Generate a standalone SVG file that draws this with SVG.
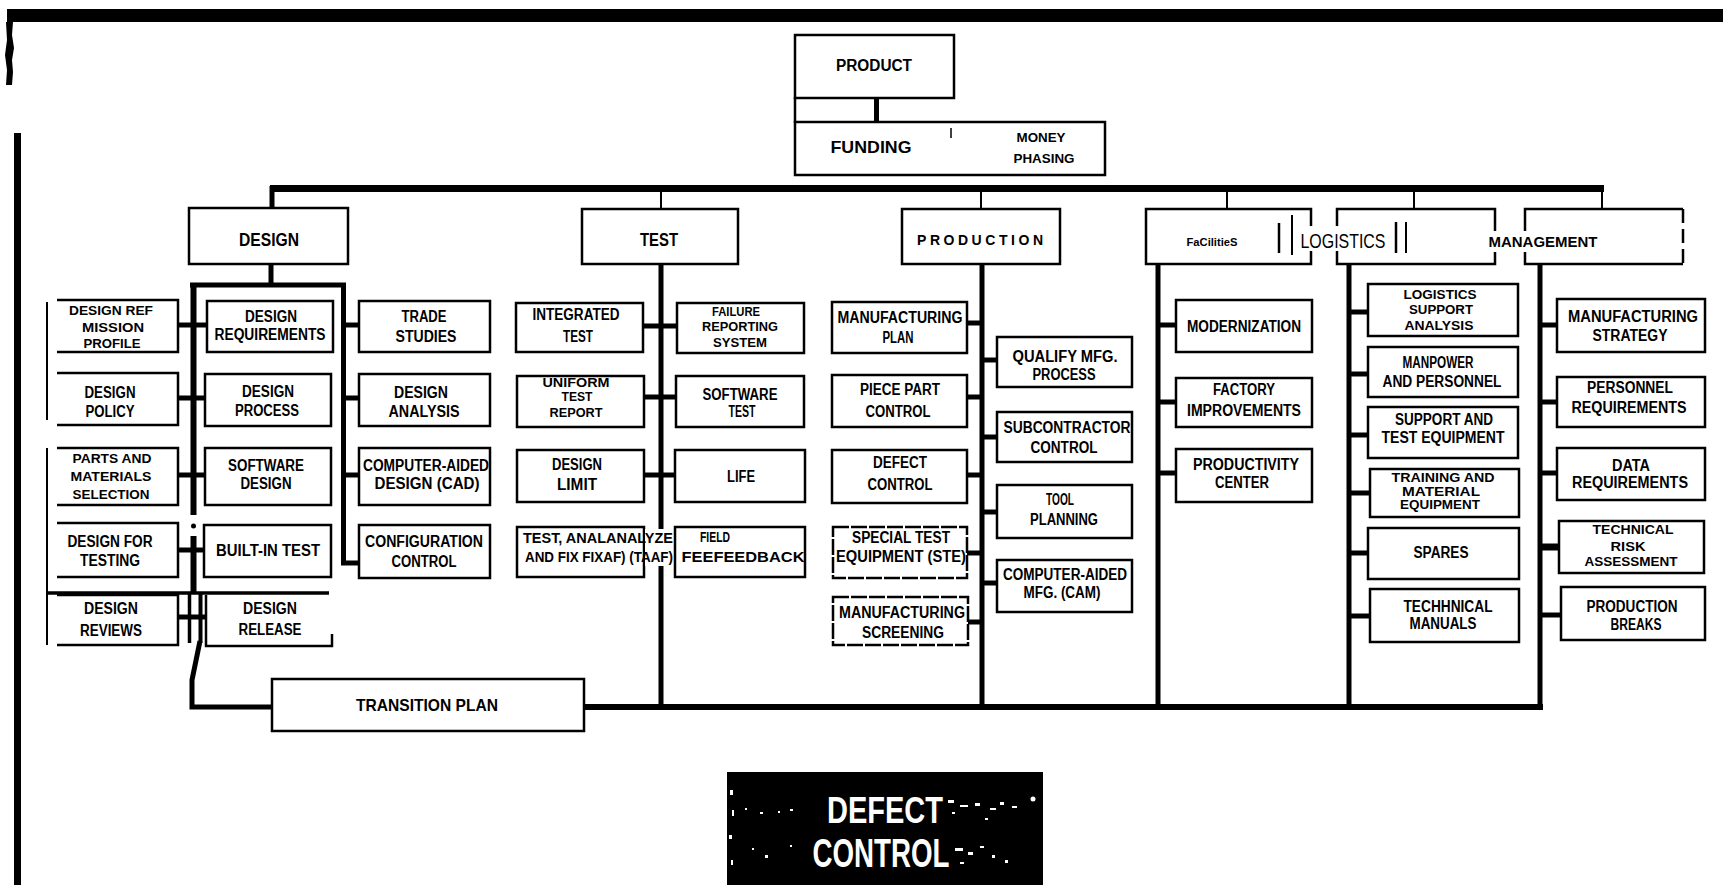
<svg xmlns="http://www.w3.org/2000/svg" width="1723" height="885" viewBox="0 0 1723 885">
<style>
.b{fill:#fff;stroke:#000;stroke-width:2.5}
.c{fill:none;stroke:#000;stroke-width:5}
.ct{fill:none;stroke:#000;stroke-width:2}
.t{font-family:"Liberation Sans Narrow","Liberation Sans",Arial,sans-serif;font-weight:bold;font-size:16px;text-anchor:middle;fill:#000}
.s{font-size:13.5px}
.xs{font-size:12.5px}
.a{font-family:"Liberation Sans",Arial,sans-serif;font-weight:bold;text-anchor:middle;fill:#000}
</style>
<rect width="1723" height="885" fill="#fff"/>
<!-- page marks -->
<rect x="7" y="9" width="1716" height="13" fill="#000"/>
<polygon points="6,22 13,22 12,35 14,48 12,60 13,72 12,85 6,85 7,70 5,55 7,40" fill="#000"/>
<rect x="14" y="133" width="7" height="752" fill="#000"/>

<g id="connectors">
  <line x1="270" y1="188.5" x2="1604" y2="188.5" stroke="#000" stroke-width="7"/>
  <line x1="876.5" y1="98" x2="876.5" y2="122" class="c"/>
  <line x1="272" y1="186" x2="272" y2="209" class="c"/>
  <line x1="661" y1="192" x2="661" y2="209" class="ct"/>
  <line x1="981" y1="192" x2="981" y2="209" class="ct"/>
  <line x1="1227" y1="192" x2="1227" y2="209" class="ct"/>
  <line x1="1414" y1="192" x2="1414" y2="209" class="ct"/>
  <line x1="1602" y1="186" x2="1602" y2="209" class="ct"/>
  <!-- design frame -->
  <line x1="271" y1="264" x2="271" y2="285" class="c"/>
  <line x1="190" y1="285" x2="346" y2="285" class="c"/>
  <line x1="193.5" y1="283" x2="193.5" y2="515" stroke="#000" stroke-width="6"/>
  <circle cx="193.5" cy="526" r="2.5" fill="#000"/>
  <line x1="193.5" y1="536" x2="193.5" y2="592" stroke="#000" stroke-width="6"/>
  <line x1="189.5" y1="592" x2="189.5" y2="643" stroke="#000" stroke-width="3.5"/>
  <line x1="200.5" y1="592" x2="200.5" y2="643" stroke="#000" stroke-width="4"/>
  <path d="M200,641 L192,680 L192,707 L272,707" class="c"/>
  <line x1="343.5" y1="283" x2="343.5" y2="565" class="c"/>
  <line x1="341" y1="563" x2="360" y2="563" class="c"/>
  <line x1="178" y1="325" x2="207" y2="325" class="c"/>
  <line x1="178" y1="398" x2="205" y2="398" class="c"/>
  <line x1="178" y1="475" x2="205" y2="475" class="c"/>
  <line x1="178" y1="550" x2="205" y2="550" class="c"/>
  <line x1="178" y1="617" x2="206" y2="617" class="c"/>
  <line x1="341" y1="325" x2="359" y2="325" class="c"/>
  <line x1="341" y1="398" x2="359" y2="398" class="c"/>
  <line x1="341" y1="475" x2="359" y2="475" class="c"/>
  <!-- test -->
  <line x1="661" y1="264" x2="661" y2="707" class="c"/>
  <line x1="643" y1="326" x2="677" y2="326" class="c"/>
  <line x1="644" y1="397" x2="676" y2="397" class="c"/>
  <line x1="644" y1="475" x2="675" y2="475" class="c"/>
  <!-- production -->
  <line x1="982" y1="264" x2="982" y2="707" class="c"/>
  <line x1="967" y1="323" x2="982" y2="323" class="c"/>
  <line x1="967" y1="397" x2="982" y2="397" class="c"/>
  <line x1="967" y1="475" x2="982" y2="475" class="c"/>
  <line x1="967" y1="553" x2="982" y2="553" class="c"/>
  <line x1="968" y1="622" x2="982" y2="622" class="c"/>
  <line x1="982" y1="360" x2="997" y2="360" class="c"/>
  <line x1="982" y1="437" x2="997" y2="437" class="c"/>
  <line x1="982" y1="512" x2="997" y2="512" class="c"/>
  <line x1="982" y1="583" x2="997" y2="583" class="c"/>
  <!-- facilities -->
  <line x1="1158" y1="264" x2="1158" y2="707" class="c"/>
  <line x1="1158" y1="325" x2="1176" y2="325" class="c"/>
  <line x1="1158" y1="402" x2="1176" y2="402" class="c"/>
  <line x1="1158" y1="473" x2="1176" y2="473" class="c"/>
  <!-- logistics -->
  <line x1="1349" y1="264" x2="1349" y2="707" class="c"/>
  <line x1="1349" y1="312" x2="1368" y2="312" class="c"/>
  <line x1="1349" y1="374" x2="1368" y2="374" class="c"/>
  <line x1="1349" y1="435" x2="1368" y2="435" class="c"/>
  <line x1="1349" y1="493" x2="1370" y2="493" class="c"/>
  <line x1="1349" y1="553" x2="1368" y2="553" class="c"/>
  <line x1="1349" y1="616" x2="1370" y2="616" class="c"/>
  <!-- management -->
  <line x1="1540" y1="264" x2="1540" y2="710" class="c"/>
  <line x1="1540" y1="325" x2="1557" y2="325" class="c"/>
  <line x1="1540" y1="402" x2="1557" y2="402" class="c"/>
  <line x1="1540" y1="473" x2="1557" y2="473" class="c"/>
  <line x1="1540" y1="547" x2="1559" y2="547" stroke="#000" stroke-width="7"/>
  <line x1="1540" y1="615" x2="1561" y2="615" class="c"/>
  <!-- bottom bus -->
  <line x1="272" y1="707" x2="1543" y2="707" stroke="#000" stroke-width="6"/>
</g>

<g id="product">
  <rect class="b" x="795" y="35" width="159" height="63"/>
  <line x1="795" y1="97" x2="795" y2="123" stroke="#000" stroke-width="2.5"/>
  <text class="t" x="874" y="71" textLength="76" lengthAdjust="spacingAndGlyphs">PRODUCT</text>
</g>
<g id="funding">
  <rect class="b" x="795" y="122" width="310" height="53"/>
  <line x1="951" y1="128" x2="951" y2="138" stroke="#000" stroke-width="1.5"/>
  <text class="t" x="871" y="153" style="font-size:17px" textLength="81" lengthAdjust="spacingAndGlyphs">FUNDING</text>
  <text class="t" x="1041" y="142" style="font-size:12px" textLength="49" lengthAdjust="spacingAndGlyphs">MONEY</text>
  <text class="t" x="1044" y="163" style="font-size:12px" textLength="61" lengthAdjust="spacingAndGlyphs">PHASING</text>
</g>

<!-- column headers -->
<g id="design">
  <rect class="b" x="189" y="208" width="159" height="56"/>
  <text class="t" x="269" y="246" style="font-size:18px" textLength="60" lengthAdjust="spacingAndGlyphs">DESIGN</text>
</g>
<g id="test">
  <rect class="b" x="582" y="209" width="156" height="55"/>
  <text class="t" x="659" y="246" style="font-size:18px" textLength="38" lengthAdjust="spacingAndGlyphs">TEST</text>
</g>
<g id="production">
  <rect class="b" x="902" y="209" width="158" height="55"/>
  <text class="a" x="980" y="245" font-size="14" textLength="126" lengthAdjust="spacing">PRODUCTION</text>
</g>
<g id="facilities">
  <rect class="b" x="1146" y="209" width="165" height="55"/>
  <text class="a" x="1212" y="246" font-size="11" textLength="51" lengthAdjust="spacingAndGlyphs">FaCilitieS</text>
  <line x1="1279" y1="223" x2="1279" y2="253" stroke="#000" stroke-width="2.5"/>
  <line x1="1292" y1="215" x2="1292" y2="255" stroke="#000" stroke-width="2"/>
</g>
<g id="logistics">
  <rect class="b" x="1337" y="209" width="158" height="55"/>
  <rect x="1299" y="226" width="90" height="25" fill="#fff"/>
  <text class="t" x="1343" y="248" style="font-size:21px;font-weight:normal" textLength="85" lengthAdjust="spacingAndGlyphs">LOGISTICS</text>
  <line x1="1396" y1="222" x2="1396" y2="253" stroke="#000" stroke-width="2.5"/>
  <line x1="1406" y1="222" x2="1406" y2="253" stroke="#000" stroke-width="2"/>
</g>
<g id="management">
  <path d="M1683,209 H1525 V264 H1683" class="b"/>
  <line x1="1683" y1="209" x2="1683" y2="264" stroke="#000" stroke-width="2.5" stroke-dasharray="14 6"/>
  <rect x="1486" y="231" width="116" height="21" fill="#fff"/>
  <text class="a" x="1543" y="247" font-size="14" textLength="109" lengthAdjust="spacingAndGlyphs">MANAGEMENT</text>
</g>

<!-- design children: left -->
<g id="design-left-rule">
  <line x1="47" y1="302" x2="47" y2="420" stroke="#000" stroke-width="2"/>
  <line x1="47" y1="448" x2="47" y2="645" stroke="#000" stroke-width="2"/>
  <line x1="47" y1="593" x2="329" y2="593" stroke="#000" stroke-width="3.5"/>
</g>
<g id="design-ref-mission-profile">
  <path class="b" d="M57,300 H178 V352 H57"/>
  <text class="t s" x="111" y="315" textLength="84" lengthAdjust="spacingAndGlyphs">DESIGN REF</text>
  <text class="t s" x="113" y="332" textLength="62" lengthAdjust="spacingAndGlyphs">MISSION</text>
  <text class="t s" x="112" y="348" textLength="57" lengthAdjust="spacingAndGlyphs">PROFILE</text>
</g>
<g id="design-policy">
  <path class="b" d="M57,373 H178 V425 H57"/>
  <text class="t" x="110" y="398" textLength="51" lengthAdjust="spacingAndGlyphs">DESIGN</text>
  <text class="t" x="110" y="417" textLength="49" lengthAdjust="spacingAndGlyphs">POLICY</text>
</g>
<g id="parts-materials-selection">
  <path class="b" d="M57,448 H178 V505 H57"/>
  <text class="t s" x="112" y="463" textLength="79" lengthAdjust="spacingAndGlyphs">PARTS AND</text>
  <text class="t s" x="111" y="481" textLength="81" lengthAdjust="spacingAndGlyphs">MATERIALS</text>
  <text class="t s" x="111" y="499" textLength="77" lengthAdjust="spacingAndGlyphs">SELECTION</text>
</g>
<g id="design-for-testing">
  <path class="b" d="M57,523 H178 V577 H57"/>
  <text class="t" x="110" y="547" textLength="85" lengthAdjust="spacingAndGlyphs">DESIGN FOR</text>
  <text class="t" x="110" y="566" textLength="60" lengthAdjust="spacingAndGlyphs">TESTING</text>
</g>
<g id="design-reviews">
  <path class="b" d="M57,595 H178 V645 H57"/>
  <text class="t" x="111" y="614" textLength="54" lengthAdjust="spacingAndGlyphs">DESIGN</text>
  <text class="t" x="111" y="636" textLength="62" lengthAdjust="spacingAndGlyphs">REVIEWS</text>
</g>
<!-- design children: middle -->
<g id="design-requirements">
  <rect class="b" x="207" y="301" width="126" height="51"/>
  <text class="t" x="271" y="322" textLength="52" lengthAdjust="spacingAndGlyphs">DESIGN</text>
  <text class="t" x="270" y="340" textLength="111" lengthAdjust="spacingAndGlyphs">REQUIREMENTS</text>
</g>
<g id="design-process">
  <rect class="b" x="205" y="374" width="126" height="52"/>
  <text class="t" x="268" y="397" textLength="52" lengthAdjust="spacingAndGlyphs">DESIGN</text>
  <text class="t" x="267" y="416" textLength="64" lengthAdjust="spacingAndGlyphs">PROCESS</text>
</g>
<g id="software-design">
  <rect class="b" x="205" y="448" width="126" height="57"/>
  <text class="t" x="266" y="471" textLength="76" lengthAdjust="spacingAndGlyphs">SOFTWARE</text>
  <text class="t" x="266" y="489" textLength="51" lengthAdjust="spacingAndGlyphs">DESIGN</text>
</g>
<g id="built-in-test">
  <rect class="b" x="204" y="525" width="127" height="52"/>
  <text class="t" x="268" y="556" textLength="104" lengthAdjust="spacingAndGlyphs">BUILT-IN TEST</text>
</g>
<g id="design-release">
  <path class="b" d="M206,595 V646 H332 V634"/>
  <text class="t" x="270" y="614" textLength="54" lengthAdjust="spacingAndGlyphs">DESIGN</text>
  <text class="t" x="270" y="635" textLength="63" lengthAdjust="spacingAndGlyphs">RELEASE</text>
</g>
<!-- design children: right -->
<g id="trade-studies">
  <rect class="b" x="359" y="301" width="131" height="51"/>
  <text class="t" x="424" y="322" textLength="45" lengthAdjust="spacingAndGlyphs">TRADE</text>
  <text class="t" x="426" y="342" textLength="61" lengthAdjust="spacingAndGlyphs">STUDIES</text>
</g>
<g id="design-analysis">
  <rect class="b" x="359" y="374" width="131" height="52"/>
  <text class="t" x="421" y="398" textLength="54" lengthAdjust="spacingAndGlyphs">DESIGN</text>
  <text class="t" x="424" y="417" textLength="71" lengthAdjust="spacingAndGlyphs">ANALYSIS</text>
</g>
<g id="cad">
  <rect class="b" x="359" y="448" width="131" height="57"/>
  <text class="t" x="426" y="471" textLength="126" lengthAdjust="spacingAndGlyphs">COMPUTER-AIDED</text>
  <text class="t" x="427" y="489" textLength="105" lengthAdjust="spacingAndGlyphs">DESIGN (CAD)</text>
</g>
<g id="configuration-control">
  <rect class="b" x="359" y="525" width="131" height="53"/>
  <text class="t" x="424" y="547" textLength="118" lengthAdjust="spacingAndGlyphs">CONFIGURATION</text>
  <text class="t" x="424" y="567" textLength="65" lengthAdjust="spacingAndGlyphs">CONTROL</text>
</g>

<!-- test children -->
<g id="integrated-test">
  <rect class="b" x="516" y="303" width="127" height="49"/>
  <text class="t" x="576" y="320" textLength="87" lengthAdjust="spacingAndGlyphs">INTEGRATED</text>
  <text class="t" x="578" y="342" textLength="30" lengthAdjust="spacingAndGlyphs">TEST</text>
</g>
<g id="failure-reporting-system">
  <rect class="b" x="677" y="303" width="127" height="50"/>
  <text class="t s" x="736" y="316" textLength="48" lengthAdjust="spacingAndGlyphs">FAILURE</text>
  <text class="t s" x="740" y="331" textLength="76" lengthAdjust="spacingAndGlyphs">REPORTING</text>
  <text class="t s" x="740" y="347" textLength="54" lengthAdjust="spacingAndGlyphs">SYSTEM</text>
</g>
<g id="uniform-test-report">
  <rect class="b" x="517" y="376" width="127" height="51"/>
  <text class="t s" x="576" y="387" textLength="67" lengthAdjust="spacingAndGlyphs">UNIFORM</text>
  <text class="t s" x="577" y="401" textLength="31" lengthAdjust="spacingAndGlyphs">TEST</text>
  <text class="t s" x="576" y="417" textLength="53" lengthAdjust="spacingAndGlyphs">REPORT</text>
</g>
<g id="software-test">
  <rect class="b" x="676" y="376" width="128" height="51"/>
  <text class="t" x="740" y="400" textLength="75" lengthAdjust="spacingAndGlyphs">SOFTWARE</text>
  <text class="t" x="742" y="417" textLength="27" lengthAdjust="spacingAndGlyphs">TEST</text>
</g>
<g id="design-limit">
  <rect class="b" x="517" y="450" width="127" height="52"/>
  <text class="t" x="577" y="470" textLength="50" lengthAdjust="spacingAndGlyphs">DESIGN</text>
  <text class="t" x="577" y="490" textLength="40" lengthAdjust="spacingAndGlyphs">LIMIT</text>
</g>
<g id="life">
  <rect class="b" x="675" y="450" width="130" height="52"/>
  <text class="t" x="741" y="482" textLength="28" lengthAdjust="spacingAndGlyphs">LIFE</text>
</g>
<g id="taaf">
  <rect class="b" x="517" y="527" width="127" height="50"/>
  <rect x="645" y="529" width="29" height="37" fill="#fff"/>
  <text class="t" x="598" y="543" style="font-size:14px" textLength="150" lengthAdjust="spacingAndGlyphs">TEST, ANALANALYZE</text>
  <text class="t" x="599" y="562" style="font-size:14px" textLength="148" lengthAdjust="spacingAndGlyphs">AND FIX FIXAF) (TAAF)</text>
</g>
<g id="field-feedback">
  <rect class="b" x="675" y="527" width="130" height="50"/>
  <text class="t" x="715" y="542" style="font-size:14px" textLength="30" lengthAdjust="spacingAndGlyphs">FIELD</text>
  <text class="t" x="743" y="562" style="font-size:14px" textLength="123" lengthAdjust="spacingAndGlyphs">FEEFEEDBACK</text>
</g>

<!-- production children -->
<g id="manufacturing-plan">
  <rect class="b" x="832" y="302" width="135" height="51"/>
  <text class="t" x="900" y="323" textLength="125" lengthAdjust="spacingAndGlyphs">MANUFACTURING</text>
  <text class="t" x="898" y="343" textLength="31" lengthAdjust="spacingAndGlyphs">PLAN</text>
</g>
<g id="qualify-mfg-process">
  <rect class="b" x="997" y="337" width="135" height="50"/>
  <text class="t" x="1065" y="362" textLength="105" lengthAdjust="spacingAndGlyphs">QUALIFY MFG.</text>
  <text class="t" x="1064" y="380" textLength="63" lengthAdjust="spacingAndGlyphs">PROCESS</text>
</g>
<g id="piece-part-control">
  <rect class="b" x="832" y="375" width="135" height="52"/>
  <text class="t" x="900" y="395" textLength="80" lengthAdjust="spacingAndGlyphs">PIECE PART</text>
  <text class="t" x="898" y="417" textLength="65" lengthAdjust="spacingAndGlyphs">CONTROL</text>
</g>
<g id="subcontractor-control">
  <rect class="b" x="997" y="412" width="135" height="50"/>
  <text class="t" x="1067" y="433" textLength="127" lengthAdjust="spacingAndGlyphs">SUBCONTRACTOR</text>
  <text class="t" x="1064" y="453" textLength="67" lengthAdjust="spacingAndGlyphs">CONTROL</text>
</g>
<g id="defect-control">
  <rect class="b" x="832" y="450" width="135" height="53"/>
  <text class="t" x="900" y="468" textLength="54" lengthAdjust="spacingAndGlyphs">DEFECT</text>
  <text class="t" x="900" y="490" textLength="65" lengthAdjust="spacingAndGlyphs">CONTROL</text>
</g>
<g id="tool-planning">
  <rect class="b" x="997" y="485" width="135" height="53"/>
  <text class="t" x="1060" y="505" textLength="28" lengthAdjust="spacingAndGlyphs">TOOL</text>
  <text class="t" x="1064" y="525" textLength="68" lengthAdjust="spacingAndGlyphs">PLANNING</text>
</g>
<g id="special-test-equipment">
  <rect class="b" x="833" y="527" width="134" height="51" stroke-dasharray="16 2"/>
  <text class="t" x="901" y="543" textLength="98" lengthAdjust="spacingAndGlyphs">SPECIAL TEST</text>
  <text class="t" x="901" y="562" textLength="130" lengthAdjust="spacingAndGlyphs">EQUIPMENT (STE)</text>
</g>
<g id="computer-aided-mfg">
  <rect class="b" x="997" y="560" width="135" height="52"/>
  <text class="t" x="1065" y="580" textLength="124" lengthAdjust="spacingAndGlyphs">COMPUTER-AIDED</text>
  <text class="t" x="1062" y="598" textLength="77" lengthAdjust="spacingAndGlyphs">MFG. (CAM)</text>
</g>
<g id="manufacturing-screening">
  <rect class="b" x="833" y="597" width="135" height="48" stroke-dasharray="16 2"/>
  <text class="t" x="902" y="618" textLength="126" lengthAdjust="spacingAndGlyphs">MANUFACTURING</text>
  <text class="t" x="903" y="638" textLength="82" lengthAdjust="spacingAndGlyphs">SCREENING</text>
</g>

<!-- facilities children -->
<g id="modernization">
  <rect class="b" x="1176" y="300" width="136" height="52"/>
  <text class="t" x="1244" y="332" textLength="114" lengthAdjust="spacingAndGlyphs">MODERNIZATION</text>
</g>
<g id="factory-improvements">
  <rect class="b" x="1176" y="378" width="136" height="49"/>
  <text class="t" x="1244" y="395" textLength="62" lengthAdjust="spacingAndGlyphs">FACTORY</text>
  <text class="t" x="1244" y="416" textLength="114" lengthAdjust="spacingAndGlyphs">IMPROVEMENTS</text>
</g>
<g id="productivity-center">
  <rect class="b" x="1176" y="449" width="136" height="53"/>
  <text class="t" x="1246" y="470" textLength="106" lengthAdjust="spacingAndGlyphs">PRODUCTIVITY</text>
  <text class="t" x="1242" y="488" textLength="54" lengthAdjust="spacingAndGlyphs">CENTER</text>
</g>

<!-- logistics children -->
<g id="logistics-support-analysis">
  <rect class="b" x="1368" y="284" width="150" height="52"/>
  <text class="t s" x="1440" y="299" textLength="73" lengthAdjust="spacingAndGlyphs">LOGISTICS</text>
  <text class="t s" x="1441" y="314" textLength="64" lengthAdjust="spacingAndGlyphs">SUPPORT</text>
  <text class="t s" x="1439" y="330" textLength="69" lengthAdjust="spacingAndGlyphs">ANALYSIS</text>
</g>
<g id="manpower-personnel">
  <rect class="b" x="1368" y="347" width="150" height="50"/>
  <text class="t" x="1438" y="368" textLength="71" lengthAdjust="spacingAndGlyphs">MANPOWER</text>
  <text class="t" x="1442" y="387" textLength="119" lengthAdjust="spacingAndGlyphs">AND PERSONNEL</text>
</g>
<g id="support-test-equipment">
  <rect class="b" x="1368" y="407" width="150" height="51"/>
  <text class="t" x="1444" y="425" textLength="98" lengthAdjust="spacingAndGlyphs">SUPPORT AND</text>
  <text class="t" x="1443" y="443" textLength="123" lengthAdjust="spacingAndGlyphs">TEST EQUIPMENT</text>
</g>
<g id="training-material-equipment">
  <rect class="b" x="1370" y="469" width="149" height="48"/>
  <text class="t xs" x="1443" y="482" textLength="103" lengthAdjust="spacingAndGlyphs">TRAINING AND</text>
  <text class="t xs" x="1441" y="496" textLength="78" lengthAdjust="spacingAndGlyphs">MATERIAL</text>
  <text class="t xs" x="1440" y="509" textLength="80" lengthAdjust="spacingAndGlyphs">EQUIPMENT</text>
</g>
<g id="spares">
  <rect class="b" x="1368" y="528" width="151" height="51"/>
  <text class="t" x="1441" y="558" textLength="55" lengthAdjust="spacingAndGlyphs">SPARES</text>
</g>
<g id="technical-manuals">
  <rect class="b" x="1370" y="589" width="149" height="53"/>
  <text class="t" x="1448" y="612" textLength="89" lengthAdjust="spacingAndGlyphs">TECHHNICAL</text>
  <text class="t" x="1443" y="629" textLength="67" lengthAdjust="spacingAndGlyphs">MANUALS</text>
</g>

<!-- management children -->
<g id="manufacturing-strategy">
  <rect class="b" x="1557" y="299" width="148" height="53"/>
  <text class="t" x="1633" y="322" textLength="130" lengthAdjust="spacingAndGlyphs">MANUFACTURING</text>
  <text class="t" x="1630" y="341" textLength="75" lengthAdjust="spacingAndGlyphs">STRATEGY</text>
</g>
<g id="personnel-requirements">
  <rect class="b" x="1557" y="377" width="148" height="50"/>
  <text class="t" x="1630" y="393" textLength="86" lengthAdjust="spacingAndGlyphs">PERSONNEL</text>
  <text class="t" x="1629" y="413" textLength="115" lengthAdjust="spacingAndGlyphs">REQUIREMENTS</text>
</g>
<g id="data-requirements">
  <rect class="b" x="1557" y="448" width="148" height="52"/>
  <text class="t" x="1631" y="471" textLength="38" lengthAdjust="spacingAndGlyphs">DATA</text>
  <text class="t" x="1630" y="488" textLength="116" lengthAdjust="spacingAndGlyphs">REQUIREMENTS</text>
</g>
<g id="technical-risk-assessment">
  <rect class="b" x="1559" y="521" width="145" height="52"/>
  <text class="t xs" x="1633" y="534" textLength="81" lengthAdjust="spacingAndGlyphs">TECHNICAL</text>
  <text class="t xs" x="1628" y="551" textLength="35" lengthAdjust="spacingAndGlyphs">RISK</text>
  <text class="t xs" x="1631" y="566" textLength="93" lengthAdjust="spacingAndGlyphs">ASSESSMENT</text>
</g>
<g id="production-breaks">
  <rect class="b" x="1561" y="587" width="144" height="53"/>
  <text class="t" x="1632" y="612" textLength="91" lengthAdjust="spacingAndGlyphs">PRODUCTION</text>
  <text class="t" x="1636" y="630" textLength="51" lengthAdjust="spacingAndGlyphs">BREAKS</text>
</g>

<g id="transition-plan">
  <rect class="b" x="272" y="679" width="312" height="52"/>
  <text class="t" x="427" y="711" style="font-size:17px" textLength="142" lengthAdjust="spacingAndGlyphs">TRANSITION PLAN</text>
</g>

<g id="defect-control-label">
  <rect x="727" y="772" width="316" height="113" fill="#000"/>
  <text class="t" x="885" y="823" style="font-size:36px;fill:#fff" textLength="116" lengthAdjust="spacingAndGlyphs">DEFECT</text>
  <text class="t" x="881" y="867" style="font-size:40px;fill:#fff" textLength="137" lengthAdjust="spacingAndGlyphs">CONTROL</text>
  <g fill="#fff">
    <circle cx="1033" cy="799" r="2.5"/>
    <rect x="730" y="790" width="3" height="5"/><rect x="732" y="810" width="2" height="6"/><rect x="729" y="835" width="3" height="4"/><rect x="731" y="860" width="2" height="5"/>
    <rect x="745" y="808" width="2" height="2"/><rect x="760" y="812" width="3" height="2"/><rect x="778" y="811" width="2" height="2"/><rect x="790" y="809" width="3" height="2"/>
    <rect x="765" y="855" width="3" height="3"/><rect x="752" y="848" width="2" height="2"/><rect x="790" y="845" width="2" height="2"/>
    <rect x="948" y="800" width="6" height="3"/><rect x="960" y="805" width="8" height="2"/><rect x="975" y="803" width="5" height="3"/><rect x="990" y="808" width="6" height="2"/><rect x="1000" y="802" width="4" height="3"/><rect x="1012" y="806" width="5" height="2"/>
    <rect x="952" y="812" width="3" height="2"/><rect x="985" y="818" width="3" height="2"/>
    <rect x="955" y="848" width="8" height="3"/><rect x="968" y="852" width="5" height="3"/><rect x="980" y="846" width="4" height="2"/><rect x="992" y="855" width="3" height="3"/><rect x="1005" y="860" width="3" height="3"/><rect x="960" y="862" width="4" height="2"/>
  </g>
</g>
</svg>
